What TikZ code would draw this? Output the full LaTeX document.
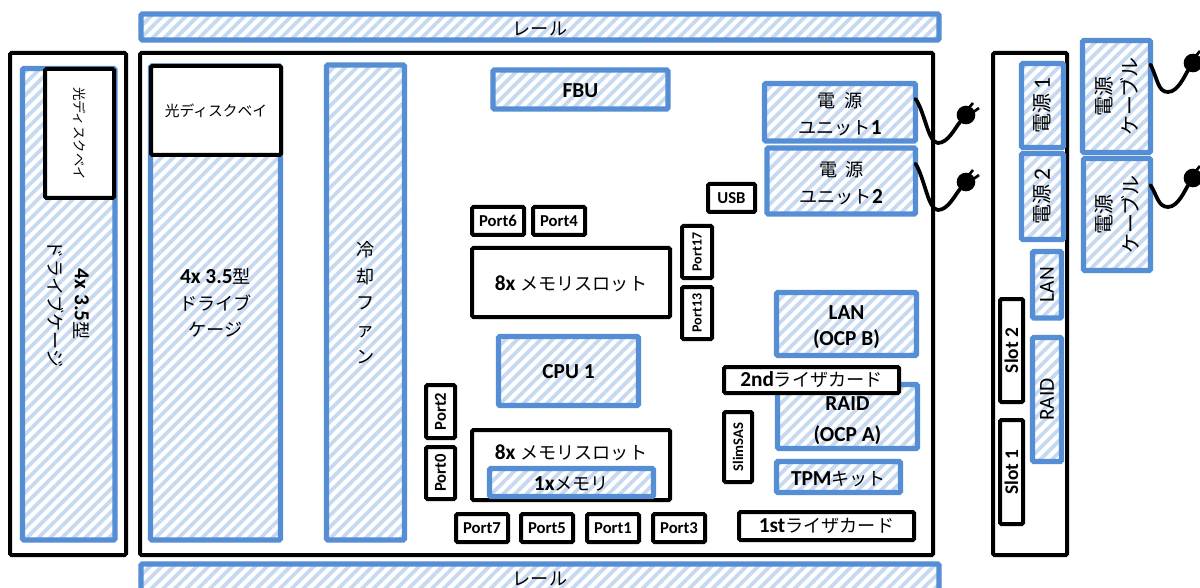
\documentclass[tikz,border=0pt]{standalone}
\usepackage{fontspec}
\setmainfont{Carlito}
\newfontfamily\jp[Scale=0.85]{Noto Sans CJK JP}
\usetikzlibrary{patterns.meta}
\definecolor{barblue}{HTML}{558ED5}
\definecolor{hatchblue}{HTML}{C6D9F1}
\newcommand{\J}[1]{{\mdseries\jp #1}}
\newcommand{\dn}[2]{\raisebox{-#1pt}[\height][\depth]{#2}}
\tikzset{
  x=0.75pt,y=-0.75pt,
  lbl/.style={align=center,inner sep=0pt,outer sep=0pt,text=black,font=\fontsize{16}{20}\selectfont\bfseries},
  hatched/.style={lbl,draw=barblue,line width=3.9pt,rounded corners=1pt,
    pattern={Lines[angle=45,distance=6.2pt,line width=2.8pt]},pattern color=hatchblue},
  blackbox/.style={lbl,draw=black,line width=3pt,rounded corners=1pt,fill=white},
  framebox/.style={draw=black,line width=3pt,rounded corners=1pt,inner sep=0pt},
  small/.style={font=\fontsize{12.5}{14}\selectfont\bfseries},
  smaller/.style={font=\fontsize{10.5}{14}\selectfont\bfseries},
  smallj/.style={font=\fontsize{13}{14}\selectfont},
  rearj/.style={font=\fontsize{17.6}{20}\selectfont},
  vert/.style={rotate=90},
  vertd/.style={rotate=-90},
  cord/.style={draw=black,line width=2.8pt,line cap=round},
  plugbody/.style={fill=black,circle,inner sep=0pt,minimum size=14pt},
}
% name, x1,y1,x2,y2 (centre line, px), style, text
\newcommand{\bx}[7]{%
  \pgfmathsetmacro{\cx}{(#2+#4)/2}\pgfmathsetmacro{\cy}{(#3+#5)/2}%
  \pgfmathsetmacro{\bw}{(#4-#2)*0.75}\pgfmathsetmacro{\bh}{(#5-#3)*0.75}%
  \node[minimum width=\bw pt,minimum height=\bh pt,#6] (#1) at (\cx,\cy) {#7};}
% rotated box: width/height are swapped by the rotation of the shape
\newcommand{\rbx}[7]{%
  \pgfmathsetmacro{\cx}{(#2+#4)/2}\pgfmathsetmacro{\cy}{(#3+#5)/2}%
  \pgfmathsetmacro{\bw}{(#5-#3)*0.75}\pgfmathsetmacro{\bh}{(#4-#2)*0.75}%
  \node[minimum width=\bw pt,minimum height=\bh pt,#6] (#1) at (\cx,\cy) {#7};}
\newcommand{\plug}[3]{%
  \node[plugbody] (#1) at (#2,#3) {};
  \draw[line width=2pt] (#1.center) ++(2,-6) -- ++(5,-6);
  \draw[line width=2pt] (#1.center) ++(6,-2) -- ++(7,-5);
}
\begin{document}
\begin{tikzpicture}
\clip (0,0) rectangle (1200,588);
\fill[white] (0,0) rectangle (1200,588);
% frames
\bx{railtop}{141}{14}{939}{40}{hatched}{\dn{1.5}{\J{レール}}}
\bx{railbot}{141}{564}{939}{594}{hatched}{\J{レール}}
\bx{frontframe}{10}{53}{126}{555}{framebox}{}
\bx{mainframe}{140}{53}{933}{555}{framebox}{}
\bx{rearframe}{993}{53}{1067}{555}{framebox}{}
% left column
\rbx{leftcage}{22.5}{68.5}{115}{540}{hatched,vertd}{4x 3.5\J{型}\\\J{ドライブケージ}}
\rbx{leftbay}{45}{69}{114}{198}{blackbox,vertd,font=\fontsize{11.8}{14}\selectfont}{\J{光ディスクベイ}}
% main column
\bx{cage}{150.5}{66}{280.5}{540}{hatched}{4x 3.5\J{型}\\\J{ドライブ}\\\J{ケージ}}
\bx{bay}{151}{66}{281}{155}{blackbox,smallj}{\J{光ディスクベイ}}
\bx{fan}{326.5}{65}{404.5}{540}{hatched,font=\fontsize{16}{20}\selectfont}{\J{冷}\\\J{却}\\\J{フ}\\\J{ァ}\\\J{ン}}
\bx{fbu}{493}{70}{668}{109}{hatched}{\dn{0.8}{FBU}}
\bx{psua}{764.5}{83.5}{915.5}{141}{hatched}{\dn{1.5}{\J{電\hspace{6pt}源}}\\\dn{1.5}{\J{ユニット}1}}
\bx{psub}{767}{148}{915.5}{214}{hatched}{\dn{1.5}{\J{電\hspace{6pt}源}}\\\dn{1.5}{\J{ユニット}2}}
\bx{usb}{708}{184}{755}{212}{blackbox,small}{USB}
\bx{portsix}{472}{207}{524}{235}{blackbox,small}{Port6}
\bx{portfour}{533}{207}{585}{235}{blackbox,small}{Port4}
\bx{memtop}{472}{248}{670}{317}{blackbox}{\dn{0.8}{8x \J{メモリスロット}}}
\rbx{portseventeen}{682}{226}{712}{278}{blackbox,smaller,vert}{Port17}
\rbx{portthirteen}{682}{287}{712}{339}{blackbox,smaller,vert}{Port13}
\bx{lanb}{776.5}{292.5}{916.5}{355.5}{hatched}{\dn{2.5}{LAN}\\\dn{2.5}{(OCP B)}}
\bx{cpu}{498.5}{336.5}{638.5}{405.5}{hatched}{\dn{0.8}{CPU 1}}
\bx{raida}{777.5}{384.5}{917.5}{448.5}{hatched}{\dn{3}{RAID}\\[3pt]\dn{3}{(OCP A)}}
\bx{riserb}{724}{367}{899}{393}{blackbox}{2nd\J{ライザカード}}
\rbx{porttwo}{426}{385}{455}{438}{blackbox,small,vert}{Port2}
\rbx{portzero}{426}{447}{455}{499}{blackbox,small,vert}{Port0}
\bx{membot}{472}{430}{670}{500}{blackbox}{\raisebox{9.5pt}[\height][\depth]{8x \J{メモリスロット}}}
\bx{memone}{489.5}{468.5}{653.5}{496.5}{hatched}{\dn{0.8}{1x\J{メモリ}}}
\rbx{slimsas}{724}{412}{752}{482}{blackbox,font=\fontsize{11}{14}\selectfont\bfseries,vert}{SlimSAS}
\bx{tpm}{776.5}{461.5}{900.5}{492.5}{hatched}{\dn{1.5}{TPM\J{キット}}}
\bx{risera}{739}{512}{914}{540}{blackbox}{1st\J{ライザカード}}
\bx{portseven}{456}{514}{508}{542}{blackbox,small}{Port7}
\bx{portfive}{521}{514}{573}{542}{blackbox,small}{Port5}
\bx{portone}{587}{514}{639}{542}{blackbox,small}{Port1}
\bx{portthree}{653}{514}{705}{542}{blackbox,small}{Port3}
% right column
\rbx{rearpsua}{1021.5}{63.5}{1063.5}{147.5}{hatched,vert,rearj}{\J{電源}\,\mdseries 1}
\rbx{rearpsub}{1021.5}{153.5}{1063.5}{239.5}{hatched,vert,rearj}{\J{電源}\,\mdseries 2}
\rbx{rearlan}{1032.5}{251.5}{1061.5}{318}{hatched,vert}{\mdseries LAN}
\rbx{rearraid}{1032.5}{337.5}{1061.5}{461.5}{hatched,vert}{\mdseries RAID}
\rbx{slottwo}{1000}{299}{1023}{402}{blackbox,vert,font=\fontsize{14.5}{16}\selectfont\bfseries}{Slot 2}
\rbx{slotone}{1000}{420}{1023}{524}{blackbox,vert,font=\fontsize{14.5}{16}\selectfont\bfseries}{Slot 1}
\rbx{cablea}{1082.5}{40.5}{1150.5}{152.5}{hatched,vert,rearj}{\J{電源}\\\J{ケーブル}}
\rbx{cableb}{1083.5}{158.5}{1150.5}{270.5}{hatched,vert,rearj}{\J{電源}\\\J{ケーブル}}
% plugs
\plug{plugpsua}{966}{115}
\plug{plugpsub}{966}{182}
\plug{plugcablea}{1193}{63}
\plug{plugcableb}{1193}{178}
\draw[cord] ([yshift=10pt]psua.east) .. controls (925,112) and (928,143) .. (938,143) .. controls (948,143) and (955,128) .. (plugpsua);
\draw[cord] ([yshift=13pt]psub.east) .. controls (925,179) and (928,210) .. (938,210) .. controls (948,210) and (955,195) .. (plugpsub);
\draw[cord] ([yshift=24pt]cablea.south) .. controls (1158,80) and (1158,92) .. (1168,92) .. controls (1178,92) and (1185,75) .. (plugcablea);
\draw[cord] ([yshift=22pt]cableb.south) .. controls (1157,195) and (1158,207) .. (1168,207) .. controls (1178,207) and (1185,190) .. (plugcableb);
\end{tikzpicture}
\end{document}
